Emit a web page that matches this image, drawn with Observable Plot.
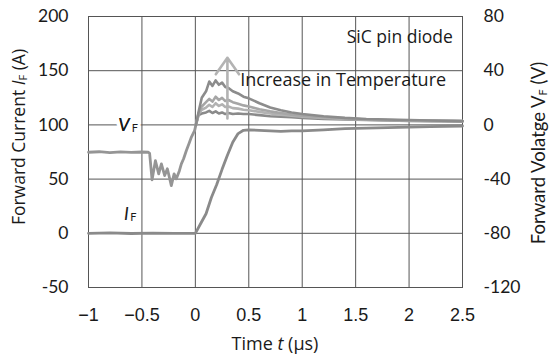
<!DOCTYPE html>
<html>
<head>
<meta charset="utf-8">
<script src="https://cdn.jsdelivr.net/npm/d3@7"></script>
<script src="https://cdn.jsdelivr.net/npm/@observablehq/plot@0.6"></script>
<style>
  body { margin: 0; background: #fff; }
</style>
</head>
<body>
<div id="chart"></div>
<script>
// Axis ticks
const timeTicks = [-1, -0.5, 0, 0.5, 1, 1.5, 2, 2.5];
const currentTicks = [-50, 0, 50, 100, 150, 200];

// Forward voltage shares the current scale: V = (I - 100) * 0.8
const voltsPerAmp = 0.8;
const voltOffset = 100;
const vToY = v => v / voltsPerAmp + voltOffset;

// Forward current I_F (A)
const tIF = [-1, -0.8, -0.6, -0.4, -0.2, 0, 0.05, 0.1, 0.15, 0.2, 0.25, 0.3, 0.35, 0.4, 0.45, 0.5, 0.6, 0.7, 0.8, 0.9, 1.0, 1.2, 1.4, 1.6, 1.8, 2.0, 2.2, 2.5];
const iF  = [0, 0.3, -0.2, 0.2, -0.1, 0, 9, 18, 33, 45, 59, 72, 84, 92, 95, 95.5, 95, 94.5, 94, 94.5, 94.5, 95.5, 96.5, 97, 97.5, 98, 98.5, 99];

// Forward voltage V_F (V) before turn-on, common to all temperatures
const tVFoff = [-1, -0.9, -0.8, -0.7, -0.6, -0.5, -0.44, -0.428, -0.405, -0.374, -0.343, -0.318, -0.287, -0.262, -0.225, -0.199, -0.178, -0.15, -0.131, -0.11, -0.084, -0.06, -0.037, -0.007, 0.005];
const vFoff  = [-20.2, -19.8, -20.4, -19.9, -20.3, -20, -20.2, -21, -40.5, -26.4, -36.1, -28.8, -37.4, -32.4, -44.8, -36.1, -39.8, -34, -28.8, -25, -18.9, -14, -9, -4.2, 0];

// Forward voltage V_F (V) after turn-on, one trace per temperature (low -> high)
const tVFon = [0.005, 0.03, 0.06, 0.1, 0.13, 0.16, 0.19, 0.22, 0.25, 0.28, 0.31, 0.35, 0.4, 0.45, 0.5, 0.6, 0.7, 0.8, 0.9, 1.0, 1.2, 1.4, 1.6, 1.8, 2.0, 2.2, 2.5];
const vF1 = [0, 7.2, 8.4, 9.2, 10.4, 8.8, 10, 8.4, 9.2, 8, 8.8, 8, 8.4, 8, 8, 7.2, 6.4, 6, 5.6, 5.2, 4.4, 4, 3.6, 3.2, 3, 2.8, 2.6];
const vF2 = [0, 8, 11.2, 12.8, 14.8, 13.2, 16, 14, 15.2, 13.2, 13.6, 12.4, 12, 11.2, 10.8, 9.6, 8.4, 7.6, 6.8, 6, 5.2, 4.4, 3.8, 3.4, 3.2, 3, 2.8];
const vF3 = [0, 8.8, 13.6, 16.8, 19.2, 17.2, 20.8, 18.4, 20, 17.6, 18.4, 16.8, 15.6, 14.4, 13.6, 11.6, 10, 8.8, 7.6, 6.8, 5.6, 4.8, 4, 3.6, 3.2, 3.2, 2.8];
const vF4 = [0, 9.6, 20, 24.8, 32, 28.8, 32.8, 29.6, 31.2, 28, 27.2, 24.8, 23.2, 20.8, 19.6, 16, 12.8, 10.8, 9.2, 8, 6.4, 5.2, 4.4, 4, 3.6, 3.2, 2.8];
const vFcolors = ["#8a8a8a", "#b2b2b2", "#a6a6a6", "#8c8c8c"];

// Temperature arrow (time in µs, current-scale units)
const arrowT = 0.3, arrowFrom = 106, arrowTo = 162;

const rows = (ts, vs, f = v => v) => ts.map((t, i) => ({t, y: f(vs[i])}));

const textColor = "#1a1a1a";
const calibri = "Lato, 'Open Sans', sans-serif";
const wide = "'Open Sans', Lato, sans-serif";
const helvetica = "'Liberation Sans', Arial, sans-serif";
const gridStyle = {stroke: "#555", strokeOpacity: 1, strokeWidth: 1};
const timeFormat = d => d < 0 ? "\u2212" + String(-d) : String(d);

const plot = Plot.plot({
  width: 549,
  height: 359,
  marginLeft: 88,
  marginRight: 87,
  marginTop: 16,
  marginBottom: 72,
  style: {background: "#fff", color: textColor},
  x: {domain: [-1, 2.5]},
  y: {domain: [-50, 200]},
  marks: [
    Plot.gridX(timeTicks, gridStyle),
    Plot.gridY(currentTicks, gridStyle),
    Plot.frame({stroke: "#555", strokeWidth: 1}),
    Plot.line(rows(tIF, iF), {x: "t", y: "y", stroke: "#8a8a8a", strokeWidth: 2.8}),
    Plot.line(rows(tVFoff, vFoff, vToY), {x: "t", y: "y", stroke: "#959595", strokeWidth: 2.8}),
    ...[vF1, vF2, vF3, vF4].map((vs, k) =>
      Plot.line(rows(tVFon, vs, vToY), {x: "t", y: "y", stroke: vFcolors[k], strokeWidth: 2.6})
    ),
    Plot.arrow([{x: arrowT, y1: arrowFrom, y2: arrowTo}], {
      x1: "x", x2: "x", y1: "y1", y2: "y2",
      stroke: "#b3b3b3", strokeWidth: 2.6, headLength: 12, headAngle: 70
    }),
    // Curve labels with white halo
    Plot.text([{t: -0.669, y: 100}], {x: "t", y: "y", text: () => "V", fontStyle: "italic",
      fontSize: 18, fontFamily: calibri, fill: textColor, stroke: "#fff", strokeWidth: 8}),
    Plot.text([{t: -0.669, y: 100}], {x: "t", y: "y", text: () => "F", dx: 11, dy: 4,
      fontSize: 11, fontFamily: calibri, fill: textColor, stroke: "#fff", strokeWidth: 6}),
    Plot.text([{t: -0.669, y: 100}], {x: "t", y: "y", text: () => "V", fontStyle: "italic",
      fontSize: 18, fontFamily: calibri, fill: textColor}),
    Plot.text([{t: -0.646, y: 18}], {x: "t", y: "y", text: () => "I", fontStyle: "italic",
      fontSize: 18, fontFamily: calibri, fill: textColor}),
    Plot.text([{t: -0.646, y: 18}], {x: "t", y: "y", text: () => "F", dx: 7, dy: 4,
      fontSize: 11, fontFamily: calibri, fill: textColor}),
    Plot.text([{t: 2.41, y: 180.6}], {x: "t", y: "y", text: () => "SiC pin diode", textAnchor: "end",
      fontSize: 17.5, fontFamily: wide, fill: textColor}),
    Plot.text([{t: 0.42, y: 141}], {x: "t", y: "y", text: () => "Increase in Temperature", textAnchor: "start",
      fontSize: 18, fontFamily: wide, fill: textColor}),
    // Axes
    Plot.axisX({ticks: timeTicks, tickSize: 0, tickPadding: 21, label: null, tickFormat: timeFormat,
      fontSize: 18, fontFamily: helvetica, fill: textColor, style: {letterSpacing: "0.5px"}}),
    Plot.axisY({anchor: "left", ticks: currentTicks, tickSize: 0, tickPadding: 20, label: null,
      tickFormat: d => String(d), fontSize: 17.5, fontFamily: calibri, fill: textColor}),
    Plot.axisY({anchor: "right", ticks: currentTicks, tickSize: 0, tickPadding: 21, label: null,
      tickFormat: d => String(Math.round((d - voltOffset) * voltsPerAmp)),
      fontSize: 17.5, fontFamily: calibri, fill: textColor})
  ]
});

document.getElementById("chart").appendChild(plot);

// Axis titles with italic symbols and subscripts
const svg = d3.select(plot);
function title(x, y, rotate, family, size, parts) {
  const t = svg.append("text")
    .attr("transform", `translate(${x},${y}) rotate(${rotate})`)
    .attr("text-anchor", "middle")
    .attr("dominant-baseline", "middle")
    .attr("font-family", family)
    .attr("font-size", size)
    .attr("fill", textColor);
  for (const p of parts) {
    const s = t.append("tspan").text(p.text);
    if (p.italic) s.attr("font-style", "italic");
    if (p.sub) s.attr("font-size", 11).attr("dy", 4);
    if (p.after) s.attr("dy", -4);
  }
}
title(20, 137, -90, wide, 17.5, [
  {text: "Forward Current "}, {text: "I", italic: true}, {text: "F", sub: true}, {text: " (A)", after: true}
]);
title(540, 153, -90, calibri, 18.5, [
  {text: "Forward Volatge V"}, {text: "F", sub: true}, {text: " (V)", after: true}
]);
title(275, 345, 0, wide, 18, [
  {text: "Time "}, {text: "t", italic: true}, {text: " (μs)"}
]);
</script>
</body>
</html>
